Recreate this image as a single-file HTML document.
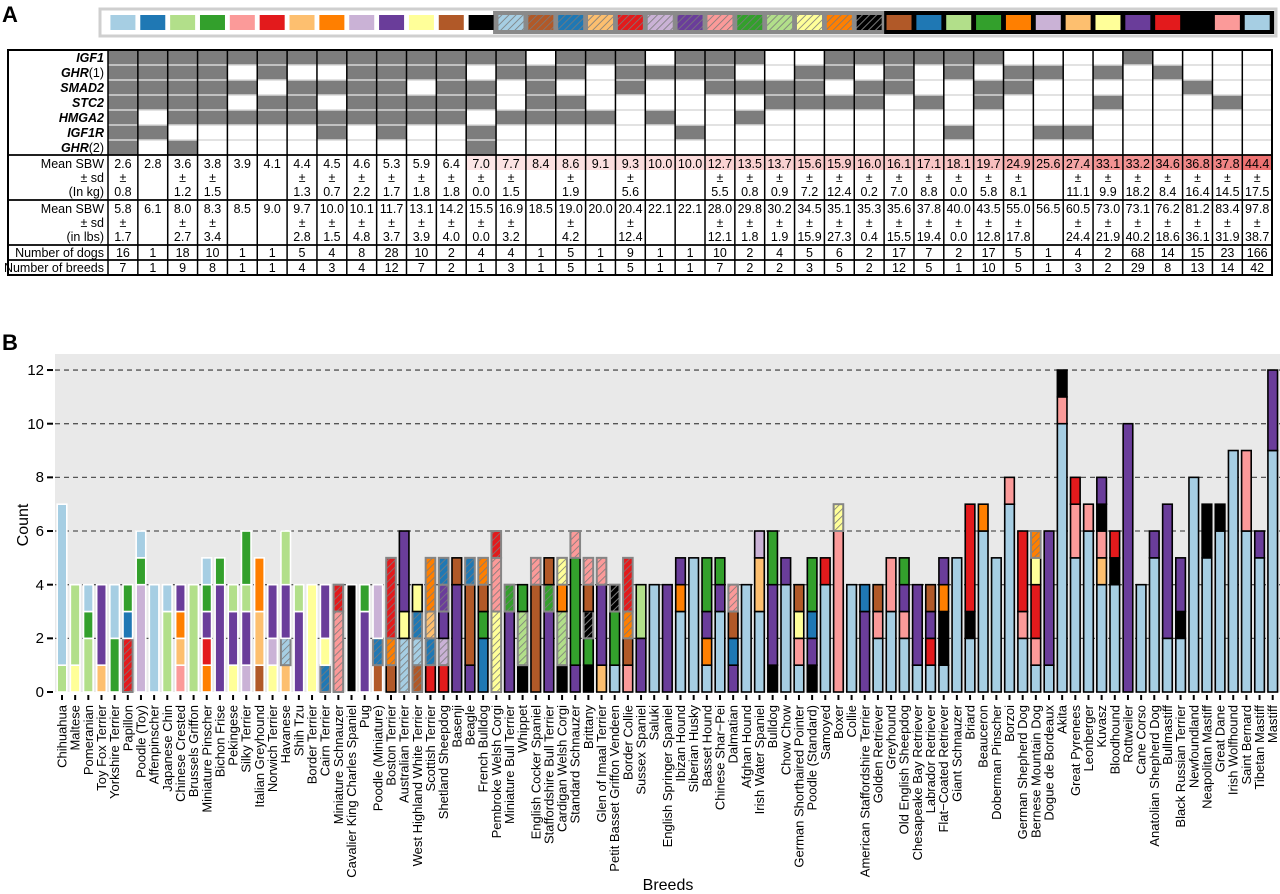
<!DOCTYPE html>
<html><head><meta charset="utf-8">
<style>
html,body{margin:0;padding:0;background:#fff;}
body{width:1280px;height:894px;overflow:hidden;position:relative;font-family:"Liberation Sans",Arial,sans-serif;}
svg{position:absolute;left:0;top:0;}
text{font-family:"Liberation Sans",Arial,sans-serif;fill:#000;}
.t{font-size:12.5px;text-anchor:middle;}
.lab{font-size:12.5px;text-anchor:end;}
.gl{font-size:12.5px;text-anchor:end;font-style:italic;font-weight:bold;}
.xl{font-size:13px;text-anchor:end;}
.yl{font-size:15px;text-anchor:end;}
</style></head><body>
<svg id="s" width="1280" height="894" viewBox="0 0 1280 894" xmlns="http://www.w3.org/2000/svg">
<defs id="defs"></defs>
<text x="2" y="22" style="font-size:22px;font-weight:bold">A</text>
<text x="2" y="350" style="font-size:22px;font-weight:bold">B</text>
<g id="legend"></g>
<g id="geno"></g>
<g id="grid"></g>
<text class="gl" x="104" y="62">IGF1</text>
<text class="gl" x="104" y="77">GHR<tspan style="font-style:normal;font-weight:normal">(1)</tspan></text>
<text class="gl" x="104" y="92">SMAD2</text>
<text class="gl" x="104" y="107">STC2</text>
<text class="gl" x="104" y="122">HMGA2</text>
<text class="gl" x="104" y="137">IGF1R</text>
<text class="gl" x="104" y="152">GHR<tspan style="font-style:normal;font-weight:normal">(2)</tspan></text>
<text class="lab" x="104" y="168">Mean SBW</text>
<text class="lab" x="104" y="182">± sd</text>
<text class="lab" x="104" y="196">(In kg)</text>
<text class="lab" x="104" y="213">Mean SBW</text>
<text class="lab" x="104" y="227">± sd</text>
<text class="lab" x="104" y="241">(in lbs)</text>
<text class="lab" x="104" y="257">Number of dogs</text>
<text class="lab" x="104" y="272">Number of breeds</text>
<g id="kgm" class="t"><text>2.6</text><text>2.8</text><text>3.6</text><text>3.8</text><text>3.9</text><text>4.1</text><text>4.4</text><text>4.5</text><text>4.6</text><text>5.3</text><text>5.9</text><text>6.4</text><text>7.0</text><text>7.7</text><text>8.4</text><text>8.6</text><text>9.1</text><text>9.3</text><text>10.0</text><text>10.0</text><text>12.7</text><text>13.5</text><text>13.7</text><text>15.6</text><text>15.9</text><text>16.0</text><text>16.1</text><text>17.1</text><text>18.1</text><text>19.7</text><text>24.9</text><text>25.6</text><text>27.4</text><text>33.1</text><text>33.2</text><text>34.6</text><text>36.8</text><text>37.8</text><text>44.4</text></g>
<g id="kgp" class="t"><text>±</text><text></text><text>±</text><text>±</text><text></text><text></text><text>±</text><text>±</text><text>±</text><text>±</text><text>±</text><text>±</text><text>±</text><text>±</text><text></text><text>±</text><text></text><text>±</text><text></text><text></text><text>±</text><text>±</text><text>±</text><text>±</text><text>±</text><text>±</text><text>±</text><text>±</text><text>±</text><text>±</text><text>±</text><text></text><text>±</text><text>±</text><text>±</text><text>±</text><text>±</text><text>±</text><text>±</text></g>
<g id="kgs" class="t"><text>0.8</text><text></text><text>1.2</text><text>1.5</text><text></text><text></text><text>1.3</text><text>0.7</text><text>2.2</text><text>1.7</text><text>1.8</text><text>1.8</text><text>0.0</text><text>1.5</text><text></text><text>1.9</text><text></text><text>5.6</text><text></text><text></text><text>5.5</text><text>0.8</text><text>0.9</text><text>7.2</text><text>12.4</text><text>0.2</text><text>7.0</text><text>8.8</text><text>0.0</text><text>5.8</text><text>8.1</text><text></text><text>11.1</text><text>9.9</text><text>18.2</text><text>8.4</text><text>16.4</text><text>14.5</text><text>17.5</text></g>
<g id="lbm" class="t"><text>5.8</text><text>6.1</text><text>8.0</text><text>8.3</text><text>8.5</text><text>9.0</text><text>9.7</text><text>10.0</text><text>10.1</text><text>11.7</text><text>13.1</text><text>14.2</text><text>15.5</text><text>16.9</text><text>18.5</text><text>19.0</text><text>20.0</text><text>20.4</text><text>22.1</text><text>22.1</text><text>28.0</text><text>29.8</text><text>30.2</text><text>34.5</text><text>35.1</text><text>35.3</text><text>35.6</text><text>37.8</text><text>40.0</text><text>43.5</text><text>55.0</text><text>56.5</text><text>60.5</text><text>73.0</text><text>73.1</text><text>76.2</text><text>81.2</text><text>83.4</text><text>97.8</text></g>
<g id="lbp" class="t"><text>±</text><text></text><text>±</text><text>±</text><text></text><text></text><text>±</text><text>±</text><text>±</text><text>±</text><text>±</text><text>±</text><text>±</text><text>±</text><text></text><text>±</text><text></text><text>±</text><text></text><text></text><text>±</text><text>±</text><text>±</text><text>±</text><text>±</text><text>±</text><text>±</text><text>±</text><text>±</text><text>±</text><text>±</text><text></text><text>±</text><text>±</text><text>±</text><text>±</text><text>±</text><text>±</text><text>±</text></g>
<g id="lbs" class="t"><text>1.7</text><text></text><text>2.7</text><text>3.4</text><text></text><text></text><text>2.8</text><text>1.5</text><text>4.8</text><text>3.7</text><text>3.9</text><text>4.0</text><text>0.0</text><text>3.2</text><text></text><text>4.2</text><text></text><text>12.4</text><text></text><text></text><text>12.1</text><text>1.8</text><text>1.9</text><text>15.9</text><text>27.3</text><text>0.4</text><text>15.5</text><text>19.4</text><text>0.0</text><text>12.8</text><text>17.8</text><text></text><text>24.4</text><text>21.9</text><text>40.2</text><text>18.6</text><text>36.1</text><text>31.9</text><text>38.7</text></g>
<g id="dogs" class="t"><text>16</text><text>1</text><text>18</text><text>10</text><text>1</text><text>1</text><text>5</text><text>4</text><text>8</text><text>28</text><text>10</text><text>2</text><text>4</text><text>4</text><text>1</text><text>5</text><text>1</text><text>9</text><text>1</text><text>1</text><text>10</text><text>2</text><text>4</text><text>5</text><text>6</text><text>2</text><text>17</text><text>7</text><text>2</text><text>17</text><text>5</text><text>1</text><text>4</text><text>2</text><text>68</text><text>14</text><text>15</text><text>23</text><text>166</text></g>
<g id="brd" class="t"><text>7</text><text>1</text><text>9</text><text>8</text><text>1</text><text>1</text><text>4</text><text>3</text><text>4</text><text>12</text><text>7</text><text>2</text><text>1</text><text>3</text><text>1</text><text>5</text><text>1</text><text>5</text><text>1</text><text>1</text><text>7</text><text>2</text><text>2</text><text>3</text><text>5</text><text>2</text><text>12</text><text>5</text><text>1</text><text>10</text><text>5</text><text>1</text><text>3</text><text>2</text><text>29</text><text>8</text><text>13</text><text>14</text><text>42</text></g>

<rect x="55" y="354" width="1225" height="338" fill="#e9e9e9"/>
<g id="dash"></g>
<g id="bars"></g>
<text class="yl" x="44" y="697">0</text>
<text class="yl" x="44" y="643">2</text>
<text class="yl" x="44" y="590">4</text>
<text class="yl" x="44" y="536">6</text>
<text class="yl" x="44" y="482">8</text>
<text class="yl" x="44" y="429">10</text>
<text class="yl" x="44" y="375">12</text>
<text x="28" y="525" transform="rotate(-90 28 525)" style="font-size:16px;text-anchor:middle">Count</text>
<text x="668" y="890" style="font-size:16px;text-anchor:middle">Breeds</text>
<g id="xl" class="xl"><text>Chihuahua</text><text>Maltese</text><text>Pomeranian</text><text>Toy Fox Terrier</text><text>Yorkshire Terrier</text><text>Papillon</text><text>Poodle (Toy)</text><text>Affenpinscher</text><text>Japanese Chin</text><text>Chinese Crested</text><text>Brussels Griffon</text><text>Miniature Pinscher</text><text>Bichon Frise</text><text>Pekingese</text><text>Silky Terrier</text><text>Italian Greyhound</text><text>Norwich Terrier</text><text>Havanese</text><text>Shih Tzu</text><text>Border Terrier</text><text>Cairn Terrier</text><text>Miniature Schnauzer</text><text>Cavalier King Charles Spaniel</text><text>Pug</text><text>Poodle (Miniature)</text><text>Boston Terrier</text><text>Australian Terrier</text><text>West Highland White Terrier</text><text>Scottish Terrier</text><text>Shetland Sheepdog</text><text>Basenji</text><text>Beagle</text><text>French Bulldog</text><text>Pembroke Welsh Corgi</text><text>Miniature Bull Terrier</text><text>Whippet</text><text>English Cocker Spaniel</text><text>Staffordshire Bull Terrier</text><text>Cardigan Welsh Corgi</text><text>Standard Schnauzer</text><text>Brittany</text><text>Glen of Imaal Terrier</text><text>Petit Basset Griffon Vendeen</text><text>Border Collie</text><text>Sussex Spaniel</text><text>Saluki</text><text>English Springer Spaniel</text><text>Ibizan Hound</text><text>Siberian Husky</text><text>Basset Hound</text><text>Chinese Shar−Pei</text><text>Dalmatian</text><text>Afghan Hound</text><text>Irish Water Spaniel</text><text>Bulldog</text><text>Chow Chow</text><text>German Shorthaired Pointer</text><text>Poodle (Standard)</text><text>Samoyed</text><text>Boxer</text><text>Collie</text><text>American Staffordshire Terrier</text><text>Golden Retriever</text><text>Greyhound</text><text>Old English Sheepdog</text><text>Chesapeake Bay Retriever</text><text>Labrador Retriever</text><text>Flat−Coated Retriever</text><text>Giant Schnauzer</text><text>Briard</text><text>Beauceron</text><text>Doberman Pinscher</text><text>Borzoi</text><text>German Shepherd Dog</text><text>Bernese Mountain Dog</text><text>Dogue de Bordeaux</text><text>Akita</text><text>Great Pyrenees</text><text>Leonberger</text><text>Kuvasz</text><text>Bloodhound</text><text>Rottweiler</text><text>Cane Corso</text><text>Anatolian Shepherd Dog</text><text>Bullmastiff</text><text>Black Russian Terrier</text><text>Newfoundland</text><text>Neapolitan Mastiff</text><text>Great Dane</text><text>Irish Wolfhound</text><text>Saint Bernard</text><text>Tibetan Mastiff</text><text>Mastiff</text></g>
</svg>
<script>
(function(){
var NS="http://www.w3.org/2000/svg";
function el(t,a,p){var e=document.createElementNS(NS,t);for(var k in a)e.setAttribute(k,a[k]);if(p)p.appendChild(e);return e;}
var C={lb:"#a6cee3",db:"#1f78b4",lg:"#b2df8a",dg:"#33a02c",pk:"#fb9a99",rd:"#e31a1c",lo:"#fdbf6f",or:"#ff7f00",lv:"#cab2d6",pu:"#6a3d9a",ye:"#ffff99",br:"#b15928",bk:"#000000"};
var defs=document.getElementById("defs");
for(var k in C){var p=el("pattern",{id:"h_"+k,patternUnits:"userSpaceOnUse",width:"5",height:"5",patternTransform:"rotate(45)"},defs);
el("rect",{x:0,y:0,width:5,height:5,fill:C[k]},p);el("line",{x1:0,y1:0,x2:0,y2:5,stroke:k=="bk"?"#999":"#7a7a7a","stroke-width":"1.6"},p);}
var X0=108,W=29.85;
function cx(i){return X0+W*(i+0.5);}
var lg=document.getElementById("legend");
el("rect",{x:100,y:9,width:1176,height:27,fill:"#fff",stroke:"#cfcfcf","stroke-width":"3"},lg);
el("rect",{x:X0+W*13-3,y:11,width:W*13+3,height:23,fill:"#8a8a8a"},lg);
el("rect",{x:X0+W*26,y:11,width:W*13+2,height:23,fill:"#000"},lg);
var g1="lb db lg dg pk rd lo or lv pu ye br bk".split(" "),g2="lb br db lo rd lv pu pk dg lg ye or bk".split(" "),g3="br db lg dg or lv lo ye pu rd bk pk lb".split(" ");
for(var i=0;i<39;i++){var c,f;if(i<13){c=g1[i];f=C[c];}else if(i<26){c=g2[i-13];f="url(#h_"+c+")";}else{c=g3[i-26];f=C[c];}
el("rect",{x:cx(i)-12.5,y:15,width:25,height:15,fill:f},lg);}
var G="1111111 1111010 1111101 1111100 1010100 1101100 1011100 1010110 1111100 1111110 1101100 1111100 1011011 1100100 0111100 1101100 1000100 1110000 0100100 1100010 1110000 1010100 0011000 0111000 1101000 1011000 1110000 1001000 1100010 1011000 0110000 0100010 0000010 0101000 1000000 0100000 0010000 0001000 0000000".split(" ");
var gg=document.getElementById("geno");
for(var i=0;i<39;i++)for(var r=0;r<7;r++){if(G[i][r]=="1")el("rect",{x:X0+W*i,y:50+15*r,width:W,height:15,fill:"#7d7d7d"},gg);}
for(var r=1;r<7;r++)el("line",{x1:X0,x2:1272,y1:50+15*r,y2:50+15*r,stroke:"#d8d8d8","stroke-width":"1.5"},gg);
var km=document.getElementById("kgm").children;
for(var i=0;i<39;i++){var v=parseFloat(km[i].textContent);var a=v<6.5?0:Math.min(1,(v-6)/38);
if(a>0){el("rect",{x:X0+W*i,y:155,width:W,height:15,fill:"rgba(232,70,70,"+(0.12+0.65*a)+")"},gg);}}
var rows={kgm:168,kgp:182,kgs:196,lbm:213,lbp:227,lbs:241,dogs:257,brd:272};
for(var id in rows){var ch=document.getElementById(id).children;for(var i=0;i<ch.length;i++){ch[i].setAttribute("x",cx(i).toFixed(1));ch[i].setAttribute("y",rows[id]);}}
var gr=document.getElementById("grid");
for(var i=0;i<=39;i++)el("line",{x1:X0+W*i,x2:X0+W*i,y1:50,y2:275,stroke:"#000","stroke-width":"1.5"},gr);
[155,200,245,260].forEach(function(y){el("line",{x1:8,x2:1272,y1:y,y2:y,stroke:"#000","stroke-width":"1.8"},gr);});
el("rect",{x:8,y:50,width:1264,height:225,fill:"none",stroke:"#000","stroke-width":"2"},gr);
var dg=document.getElementById("dash");
for(var v=2;v<=12;v+=2){var y=692-v*26.83;el("line",{x1:55,x2:1280,y1:y,y2:y,stroke:"#555","stroke-width":"1.3","stroke-dasharray":"5,4"},dg);}
for(var v=0;v<=12;v+=2){var y=692-v*26.83;el("line",{x1:47,x2:53,y1:y,y2:y,stroke:"#000","stroke-width":"2"},dg);}
var B=["lg1 lb6","ye1 lg3","lg2 dg1 lb1","lo1 pu3","dg2 lb2","rdh2 db1 dg1","lv4 dg1 lb1","lb4","lg3 lb1","pk1 lo1 or1 pu1","lg4","or1 rd1 pu1 dg1 lb1","pu4 dg1","ye1 pu2 lg1","lv1 pu2 lg1 dg2","br1 lo2 or2","ye1 lv1 pu2","lo1 lbh1 pu2 lg2","pu3 lg1","ye4","dbh1 ye1 pu2","pkh3 rdh1","bk4","pu3 dg1","br1 dbh1 lv2","br1 orh1 rdh3","lbh2 ye1 pu3","brh1 lbh1 dbh1 ye1","rd1 dbh1 loh1 orh2","rd1 lvh1 pu1 puh1 dbh1","pu4 br1","pu1 br3 dbh1","db2 dg1 br1 orh1","yeh3 pkh2 rdh1","pu3 dgh1","bk1 lgh2 dg1","br4 pkh1","pu3 dgh1 br1","bk1 lgh2 or1 yeh1","pu1 dg4 pkh1","bk1 dg1 bkh1 br1 pkh1","lo1 pu3 pkh1","lb1 dg2 bkh1","pk1 br1 orh1 rdh2","pu2 lg2","lb4","pu4","lb3 or1 pu1","lb5","lb1 or1 pu1 dg2","lb3 pu1 dg1","pu1 db1 br1 pkh1","lb4","lb3 lo2 lv1","bk1 pu3 dg2","lb4 pu1","lb1 pk1 ye1 br1","bk1 pu1 db1 dg2","lb4 rd1","pk6 yeh1","lb4","pu3 db1","lb2 pk1 br1","lb3 pk2","lb2 pk1 pu1 dg1","lb1 pu3","lb1 rd1 pu1 br1","lb1 bk2 or1 pu1","lb5","lb2 bk1 rd4","lb6 or1","lb5","lb7 pk1","lb2 pk1 rd3","lb1 pk1 rd2 ye1 orh1","lb1 pu5","lb10 pk1 bk1","lb5 pk2 rd1","lb6 pk1","lb4 lo1 pk1 bk1 pu1","lb4 bk1 rd1","pu10","lb4","lb5 pu1","lb2 pu5","lb2 bk1 pu2","lb8","lb5 bk2","lb6 bk1","lb9","lb6 pk3","lb5 pu1","lb9 pu3"];
var bg=document.getElementById("bars"),U=26.83,BW=9.6;
var xl=document.getElementById("xl").children;
for(var i=0;i<B.length;i++){var x=62+13.16*i,base=0;
B[i].split(" ").forEach(function(t){var col=t.substr(0,2),h=t.charAt(2)=="h",n=parseInt(t.substr(h?3:2));
var y1=692-(base+n)*U,st=h?"#858585":(i<25?"#ffffff":"#000"),sw=h?2:1.6;
el("rect",{x:(x-BW/2).toFixed(2),y:y1.toFixed(2),width:BW,height:(n*U).toFixed(2),fill:h?"url(#h_"+col+")":C[col],stroke:st,"stroke-width":sw},bg);
base+=n;});
el("line",{x1:x,x2:x,y1:695,y2:700,stroke:"#000","stroke-width":"2"},bg);
xl[i].setAttribute("transform","translate("+(x+4.5).toFixed(1)+",705) rotate(-90)");}
})();
</script>
</body></html>
